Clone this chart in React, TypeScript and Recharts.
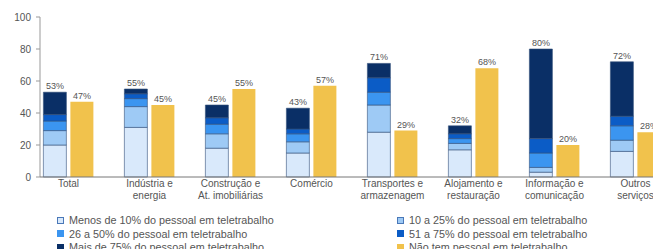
import React from 'react';
import { BarChart, Bar, XAxis, YAxis, LabelList } from 'recharts';

const categories = [
  'Total',
  'Indústria e\nenergia',
  'Construção e\nAt. imobiliárias',
  'Comércio',
  'Transportes e\narmazenagem',
  'Alojamento e\nrestauração',
  'Informação e\ncomunicação',
  'Outros\nserviços',
];
const menos10 = [20, 31, 18, 15, 28, 17, 3, 16];
const de10a25 = [9, 13, 9, 7, 17, 4, 3, 7];
const de26a50 = [6, 5, 6, 5, 8, 3, 9, 9];
const de51a75 = [4, 3, 4, 3, 9, 3, 9, 6];
const mais75 = [14, 3, 8, 13, 9, 5, 56, 34];
const semTeletrabalho = [47, 45, 55, 57, 29, 68, 20, 28];
const yTicks = [0, 20, 40, 60, 80, 100];

const series = [
  { key: 'menos10', name: 'Menos de 10% do pessoal em teletrabalho', color: '#d9e9fb' },
  { key: 'de10a25', name: '10 a 25% do pessoal em teletrabalho', color: '#9ecaf5' },
  { key: 'de26a50', name: '26 a 50% do pessoal em teletrabalho', color: '#3b95f0' },
  { key: 'de51a75', name: '51 a 75% do pessoal em teletrabalho', color: '#0b5cc6' },
  { key: 'mais75', name: 'Mais de 75% do pessoal em teletrabalho', color: '#0a2f66' },
  { key: 'sem', name: 'Não tem pessoal em teletrabalho', color: '#f1c24c' },
];

const data = categories.map((name, i) => ({
  name,
  menos10: menos10[i],
  de10a25: de10a25[i],
  de26a50: de26a50[i],
  de51a75: de51a75[i],
  mais75: mais75[i],
  total: menos10[i] + de10a25[i] + de26a50[i] + de51a75[i] + mais75[i],
  sem: semTeletrabalho[i],
}));

const FONT = '"Liberation Sans", Arial, sans-serif';
const TEXT = '#555';

function CategoryTick(props: any) {
  const { x, y, payload } = props;
  const lines = String(payload.value).split('\n');
  return (
    <text x={x} y={y} textAnchor="middle" fontSize={10} fill={TEXT} fontFamily={FONT}>
      {lines.map((l, i) => (
        <tspan key={i} x={x} dy={i === 0 ? 10 : 11.5}>
          {l}
        </tspan>
      ))}
    </text>
  );
}

export default function App() {
  return (
    <div
      style={{
        position: 'absolute',
        top: 0,
        left: 0,
        width: 653,
        height: 249,
        overflow: 'hidden',
        background: '#fff',
        fontFamily: FONT,
      }}
    >
      <BarChart
        width={676}
        height={215}
        data={data}
        margin={{ top: 17, right: 0, left: 0, bottom: 0 }}
        barCategoryGap="19%"
        barGap={4}
      >
        <YAxis
          domain={[0, 100]}
          ticks={yTicks}
          width={40}
          axisLine={{ stroke: '#999' }}
          tickLine={{ stroke: '#999' }}
          tickSize={4}
          tickMargin={5}
          tick={{ fontSize: 10, fill: TEXT, fontFamily: FONT }}
        />
        <XAxis
          dataKey="name"
          height={38}
          padding={{ left: -12, right: 0 }}
          axisLine={{ stroke: '#777' }}
          tickLine={false}
          tickSize={0}
          tickMargin={0}
          interval={0}
          tick={<CategoryTick />}
        />
        {series.slice(0, 5).map((s) => (
          <Bar
            key={s.key}
            dataKey={s.key}
            name={s.name}
            stackId="a"
            fill={s.color}
            stroke="#34507a"
            strokeWidth={0.6}
            isAnimationActive={false}
          >
            {s.key === 'mais75' && (
              <LabelList
                dataKey="total"
                position="top"
                offset={3}
                formatter={(v: any) => `${v}%`}
                style={{ fontSize: 9, fill: TEXT, fontFamily: FONT }}
              />
            )}
          </Bar>
        ))}
        <Bar dataKey="sem" name={series[5].name} stackId="b" fill={series[5].color} isAnimationActive={false}>
          <LabelList
            dataKey="sem"
            position="top"
            offset={3}
            formatter={(v: any) => `${v}%`}
            style={{ fontSize: 9, fill: TEXT, fontFamily: FONT }}
          />
        </Bar>
      </BarChart>
      {series.map((s, idx) => {
        const col = idx % 2;
        const row = Math.floor(idx / 2);
        return (
          <div
            key={s.key}
            style={{
              position: 'absolute',
              left: col === 0 ? 57 : 397,
              top: 213.5 + row * 13.5,
              height: 13,
              display: 'flex',
              alignItems: 'center',
              fontSize: 10.8,
              color: TEXT,
              whiteSpace: 'nowrap',
            }}
          >
            <span
              style={{
                display: 'inline-block',
                width: 7,
                height: 7,
                background: s.color,
                border: idx === 0 || idx === 1 ? '1px solid #4a78b8' : 'none',
                marginRight: 5,
                boxSizing: 'border-box',
              }}
            />
            {s.name}
          </div>
        );
      })}
    </div>
  );
}
